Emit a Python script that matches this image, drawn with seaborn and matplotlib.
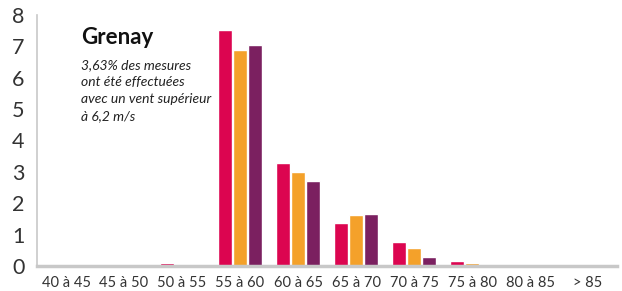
import matplotlib
matplotlib.use("Agg")
import matplotlib.pyplot as plt
import seaborn as sns
import pandas as pd
import numpy as np

categories = ["40 à 45", "45 à 50", "50 à 55", "55 à 60", "60 à 65",
              "65 à 70", "70 à 75", "75 à 80", "80 à 85", "> 85"]
series_names = ["s1", "s2", "s3"]
s1 = [0.01, 0.01, 0.09, 7.51, 3.29, 1.37, 0.77, 0.16, 0.01, 0.01]
s2 = [0.01, 0.01, 0.02, 6.87, 3.00, 1.63, 0.58, 0.10, 0.01, 0.01]
s3 = [0.01, 0.01, 0.01, 7.03, 2.72, 1.66, 0.29, 0.01, 0.01, 0.04]
yticks = [0, 1, 2, 3, 4, 5, 6, 7, 8]
colors = ["#DC0550", "#F4A12A", "#7B2060"]

rows = []
for name, vals in zip(series_names, [s1, s2, s3]):
    for c, v in zip(categories, vals):
        rows.append({"cat": c, "serie": name, "val": v})
df = pd.DataFrame(rows)

sns.set_theme(style="white")
plt.rcParams['font.family'] = ['Lato', 'DejaVu Sans']

fig = plt.figure(figsize=(6.22, 2.91), dpi=100)
ax = fig.add_axes([37/622, 25/291, 580/622, 251/291])

sns.barplot(data=df, x="cat", y="val", hue="serie", order=categories,
            hue_order=series_names, palette=colors, width=0.78, gap=0.1,
            saturation=1, legend=False, ax=ax)

ax.set_xlim(-0.5, 9.5)
ax.set_ylim(0, 8)
ax.set_yticks(yticks)
ax.set_yticklabels([str(t) for t in yticks], fontsize=15.5, color="#333333")
ax.set_xlabel("")
ax.set_ylabel("")
ax.tick_params(axis="y", direction="in", length=13, width=1.2, color="#C8C8C8", pad=9)
ax.tick_params(axis="x", which="major", length=0, pad=7, labelsize=10.5, labelcolor="#333333")
ax.set_xticks(np.arange(0.5, 9.5, 1), minor=True)
ax.tick_params(axis="x", which="minor", direction="in", length=8, width=1.2, color="#C8C8C8")

for s in ["top", "right"]:
    ax.spines[s].set_visible(False)
ax.spines["left"].set_color("#C8C8C8")
ax.spines["left"].set_linewidth(1.2)
ax.spines["bottom"].set_color("#C8C8C8")
ax.spines["bottom"].set_linewidth(2.5)

fig.text(81/622, 1 - 38/291, "Grenay", fontsize=16, fontweight="bold",
         color="#111111", va="center", ha="left")
sub = "3,63% des mesures\nont été effectuées\navec un vent supérieur\nà 6,2 m/s"
fig.text(81/622, 1 - 59/291, sub, fontsize=10, fontstyle="italic",
         color="#222222", va="top", ha="left", linespacing=1.5)

fig.savefig("out.png", dpi=100)
